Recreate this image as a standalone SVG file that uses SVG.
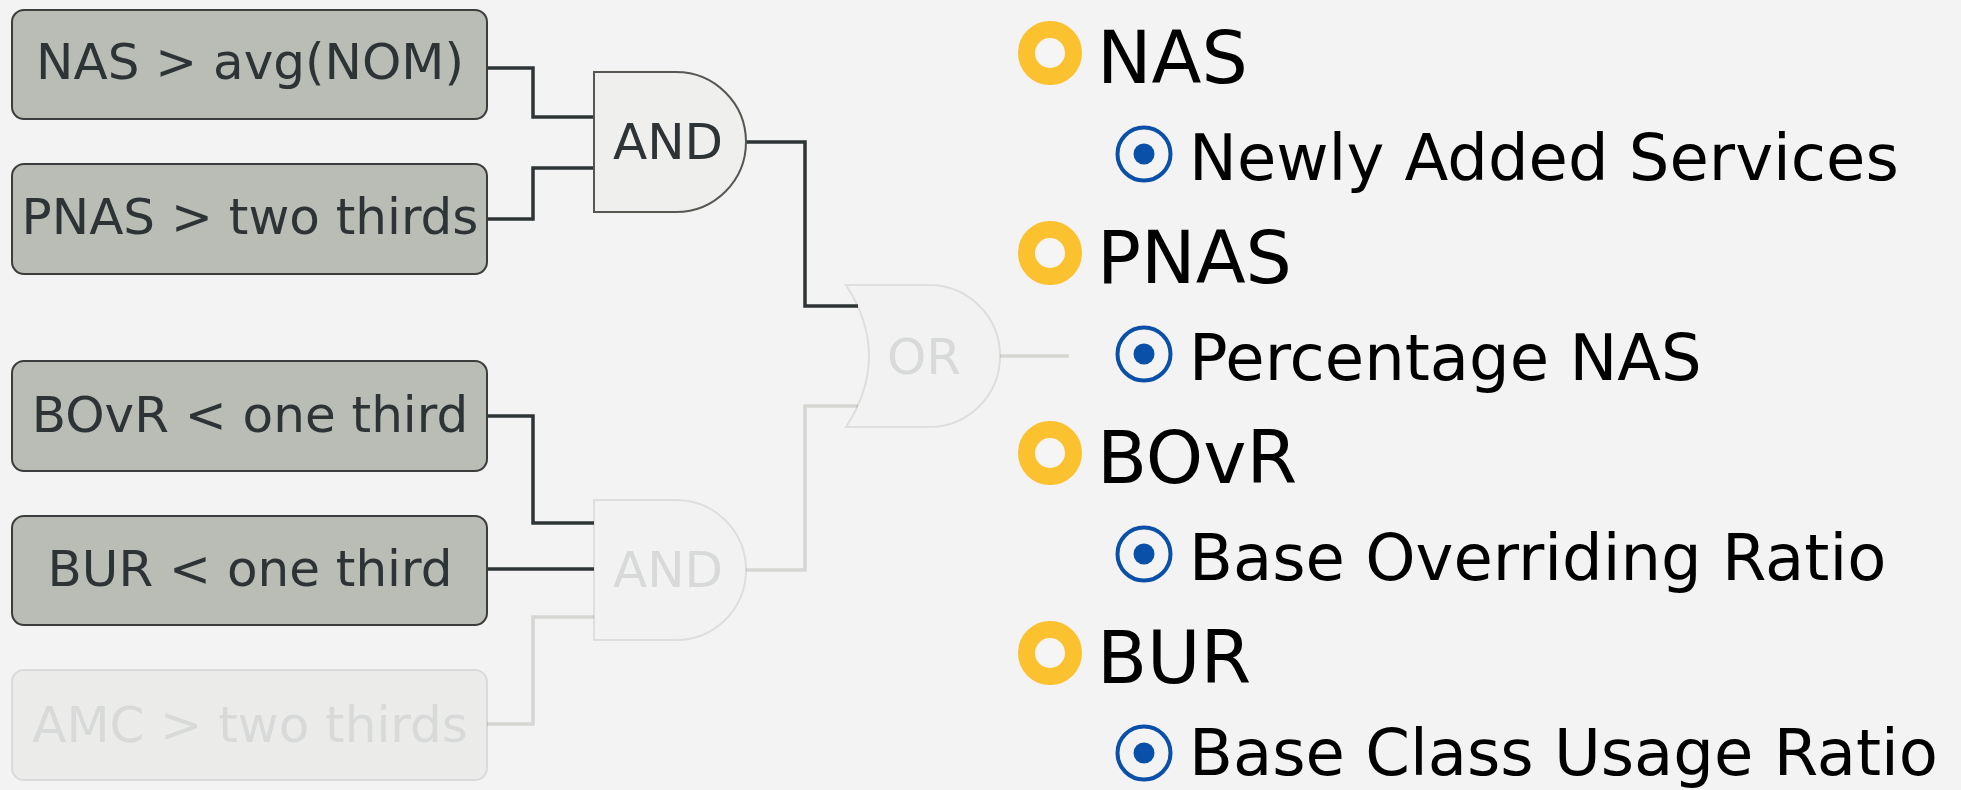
<svg xmlns="http://www.w3.org/2000/svg" width="1961" height="790" viewBox="0 0 1961 790">
<style>
text{font-family:"DejaVu Sans","Liberation Sans",sans-serif}
.box{fill:#babdb6;stroke:#3a3d3b;stroke-width:2}
.btxt{font-size:50px;fill:#2e3436;text-anchor:middle}
.gate{fill:#efefed;stroke:#555753;stroke-width:2}
.gtxt{font-size:50px;fill:#2e3436;text-anchor:middle}
.faded{opacity:0.13}
.wire{fill:none;stroke:#2e3436;stroke-width:3.5}
.wfaded{fill:none;stroke:#d6d6d3;stroke-width:3.5}
.ring{fill:#f5f5f5;stroke:#fbc12f;stroke-width:17}
.tgt{fill:none;stroke:#0b50a8;stroke-width:4}
.dot{fill:#0b50a8}
.big{font-size:73px;fill:#000}
.small{font-size:64px;fill:#000}
</style>
<rect width="1961" height="790" fill="#f3f3f3"/>
<g id="connectors">
<path class="wire" d="M487,68 H533 V117 H594"/>
<path class="wire" d="M487,219 H533 V168 H594"/>
<path class="wire" d="M487,416 H533 V523 H594"/>
<path class="wire" d="M487,569 H594"/>
<path class="wfaded" d="M487,724 H533 V617 H594"/>
<path class="wire" d="M746,142 H805 V306 H858"/>
<path class="wfaded" d="M746,570 H805 V406 H858"/>
<path class="wfaded" d="M1000,356 H1069"/>
</g>
<g id="node-nas-cond">
<rect class="box" x="12" y="10" width="475" height="109" rx="12"/>
<text class="btxt" x="250" y="79">NAS &gt; avg(NOM)</text>
</g>
<g id="node-pnas-cond">
<rect class="box" x="12" y="164" width="475" height="110" rx="12"/>
<text class="btxt" x="250" y="234">PNAS &gt; two thirds</text>
</g>
<g id="node-bovr-cond">
<rect class="box" x="12" y="361" width="475" height="110" rx="12"/>
<text class="btxt" x="250" y="432">BOvR &lt; one third</text>
</g>
<g id="node-bur-cond">
<rect class="box" x="12" y="516" width="475" height="109" rx="12"/>
<text class="btxt" x="250" y="586">BUR &lt; one third</text>
</g>
<g id="node-amc-cond" class="faded">
<rect class="box" x="12" y="670" width="475" height="110" rx="12"/>
<text class="btxt" x="250" y="742">AMC &gt; two thirds</text>
</g>
<g id="node-and1">
<path class="gate" d="M594,72 H676 A70,70 0 0 1 676,212 H594 Z"/>
<text class="gtxt" x="668" y="159">AND</text>
</g>
<g id="node-and2" class="faded">
<path class="gate" d="M594,500 H676 A70,70 0 0 1 676,640 H594 Z"/>
<text class="gtxt" x="668" y="587">AND</text>
</g>
<g id="node-or" class="faded">
<path class="gate" d="M846,285 H929 A71,71 0 0 1 929,427 H846 Q892,356 846,285 Z"/>
<text class="gtxt" x="924" y="374">OR</text>
</g>
<g id="legend-nas">
<circle class="ring" cx="1050" cy="53" r="23.5"/>
<text class="big" x="1097" y="83">NAS</text>
<circle class="tgt" cx="1144" cy="154" r="26.5"/>
<circle class="dot" cx="1144" cy="154" r="10.5"/>
<text class="small" x="1189" y="180">Newly Added Services</text>
</g>
<g id="legend-pnas">
<circle class="ring" cx="1050" cy="253" r="23.5"/>
<text class="big" x="1097" y="283">PNAS</text>
<circle class="tgt" cx="1144" cy="354" r="26.5"/>
<circle class="dot" cx="1144" cy="354" r="10.5"/>
<text class="small" x="1189" y="380">Percentage NAS</text>
</g>
<g id="legend-bovr">
<circle class="ring" cx="1050" cy="453" r="23.5"/>
<text class="big" x="1097" y="483">BOvR</text>
<circle class="tgt" cx="1144" cy="554" r="26.5"/>
<circle class="dot" cx="1144" cy="554" r="10.5"/>
<text class="small" x="1189" y="580">Base Overriding Ratio</text>
</g>
<g id="legend-bur">
<circle class="ring" cx="1050" cy="653" r="23.5"/>
<text class="big" x="1097" y="683">BUR</text>
<circle class="tgt" cx="1144" cy="753" r="26.5"/>
<circle class="dot" cx="1144" cy="753" r="10.5"/>
<text class="small" x="1189" y="775">Base Class Usage Ratio</text>
</g>
</svg>
